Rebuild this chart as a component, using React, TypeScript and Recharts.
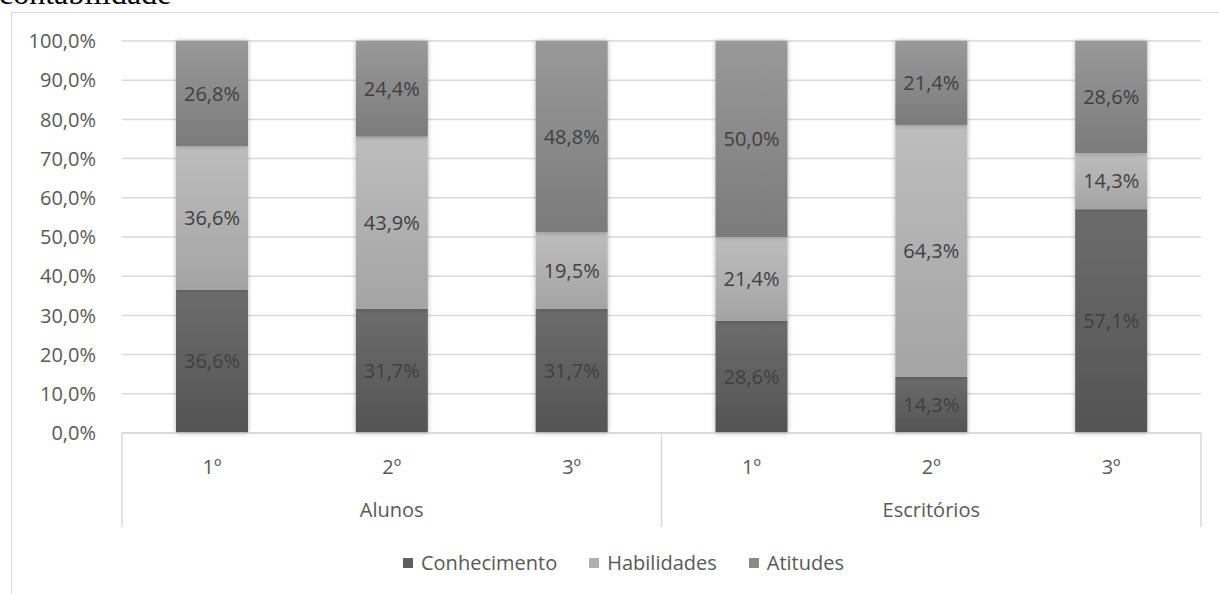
import React from "react";
import {
  Bar,
  BarChart,
  CartesianGrid,
  LabelList,
  Legend,
  XAxis,
  YAxis,
} from "recharts";

// categories: survey group and position
const groups = ["Alunos", "Alunos", "Alunos", "Escritórios", "Escritórios", "Escritórios"];
const positions = ["1º", "2º", "3º", "1º", "2º", "3º"];

// share of each competence (%)
const conhecimento = [36.6, 31.7, 31.7, 28.6, 14.3, 57.1];
const habilidades = [36.6, 43.9, 19.5, 21.4, 64.3, 14.3];
const atitudes = [26.8, 24.4, 48.8, 50.0, 21.4, 28.6];

const yTicks = [0, 10, 20, 30, 40, 50, 60, 70, 80, 90, 100];

const data = positions.map((pos, i) => ({
  pos,
  group: groups[i],
  conhecimento: conhecimento[i],
  habilidades: habilidades[i],
  atitudes: atitudes[i],
}));

const FONT = "'Open Sans', sans-serif";
const FS = 20;
const TEXT = "#595959";
const GRID = "#d9d9d9";

const W = 1207;
const H = 580;
const MARGIN = { top: 28, right: 18, left: 0, bottom: 66 };
const Y_W = 110;
const X_H = 94;
const PLOT_W = W - MARGIN.left - MARGIN.right - Y_W;
const PLOT_BOTTOM = H - MARGIN.bottom - X_H;
const BAND = PLOT_W / data.length;

const series = [
  { key: "conhecimento", name: "Conhecimento", grad: "gC", top: "#6c6c6c", bottom: "#545454", swatch: "#5f5f5f" },
  { key: "habilidades", name: "Habilidades", grad: "gH", top: "#bdbdbd", bottom: "#a4a4a4", swatch: "#b0b0b0" },
  { key: "atitudes", name: "Atitudes", grad: "gA", top: "#999999", bottom: "#7b7b7b", swatch: "#8a8a8a" },
];

const pct = (v: number) => v.toFixed(1).replace(".", ",") + "%";

const SegmentShape = (props: any) => {
  const { x, y, width, height, fill } = props;
  if (!height || height <= 0) return null;
  return <rect x={x} y={y} width={width} height={height} fill={fill} filter="url(#barShadow)" />;
};

// two-level category axis: position on the first row, group name below
const CategoryTick = (props: any) => {
  const { x, payload } = props;
  const i = payload.index;
  const g = groups[i];
  const first = i === 0 || groups[i - 1] !== g;
  const last = i === groups.length - 1;
  const count = groups.filter((v) => v === g).length;
  const left = x - BAND / 2;
  return (
    <g>
      <text x={x} y={PLOT_BOTTOM + 33} textAnchor="middle" dominantBaseline="central" fill={TEXT} fontSize={FS} fontFamily={FONT}>
        {payload.value}
      </text>
      {first && (
        <>
          <line x1={left} x2={left} y1={PLOT_BOTTOM} y2={PLOT_BOTTOM + X_H} stroke={GRID} strokeWidth={1.5} />
          <text x={left + (count * BAND) / 2} y={PLOT_BOTTOM + 76} textAnchor="middle" dominantBaseline="central" fill={TEXT} fontSize={FS} fontFamily={FONT}>
            {g}
          </text>
        </>
      )}
      {last && (
        <line x1={x + BAND / 2} x2={x + BAND / 2} y1={PLOT_BOTTOM} y2={PLOT_BOTTOM + X_H} stroke={GRID} strokeWidth={1.5} />
      )}
    </g>
  );
};

const LegendContent = () => (
  <div style={{ display: "flex", justifyContent: "center", paddingLeft: 16, fontFamily: FONT, fontSize: FS, color: TEXT }}>
    {series.map((s) => (
      <div key={s.key} style={{ display: "flex", alignItems: "center", margin: "0 16px" }}>
        <span style={{ width: 10, height: 10, background: s.swatch, marginRight: 8, display: "inline-block" }} />
        {s.name}
      </div>
    ))}
  </div>
);

const App = () => {
  return (
    <div>
      <div
        style={{
          position: "absolute",
          left: -1,
          top: -25,
          fontFamily: "'Liberation Serif', serif",
          fontSize: 32,
          color: "#000",
        }}
      >
        contabilidade
      </div>
      <div
        style={{
          position: "absolute",
          left: 11,
          top: 12,
          width: 1240,
          height: 620,
          border: `1.5px solid ${GRID}`,
          background: "#fff",
        }}
      />
      <div style={{ position: "absolute", left: 12, top: 13 }}>
        <BarChart width={W} height={H} data={data} margin={MARGIN} barSize={72}>
          <defs>
            {series.map((s) => (
              <linearGradient key={s.grad} id={s.grad} x1="0" y1="0" x2="0" y2="1">
                <stop offset="0%" stopColor={s.top} />
                <stop offset="100%" stopColor={s.bottom} />
              </linearGradient>
            ))}
            <filter id="barShadow" x="-20%" y="-5%" width="140%" height="110%">
              <feDropShadow dx="0" dy="0" stdDeviation="2.5" floodColor="#000" floodOpacity="0.3" />
            </filter>
          </defs>
          <CartesianGrid vertical={false} stroke={GRID} strokeWidth={1.5} />
          <XAxis
            dataKey="pos"
            height={X_H}
            interval={0}
            tickLine={false}
            axisLine={{ stroke: GRID, strokeWidth: 1.5 }}
            tick={<CategoryTick />}
          />
          <YAxis
            width={Y_W}
            domain={[0, 100]}
            ticks={yTicks}
            interval={0}
            tickFormatter={pct}
            axisLine={false}
            tickLine={false}
            tickMargin={20}
            tick={{ fill: TEXT, fontSize: FS, fontFamily: FONT }}
          />
          <Legend
            verticalAlign="middle"
            wrapperStyle={{ top: 536, left: 0, width: W }}
            content={<LegendContent />}
          />
          {series.map((s) => (
            <Bar
              key={s.key}
              dataKey={s.key}
              name={s.name}
              stackId="a"
              fill={`url(#${s.grad})`}
              shape={<SegmentShape />}
              isAnimationActive={false}
            >
              <LabelList
                dataKey={s.key}
                position="center"
                formatter={(v: any) => pct(Number(v))}
                style={{ fill: "#404040", fontSize: FS, fontFamily: FONT }}
              />
            </Bar>
          ))}
        </BarChart>
      </div>
    </div>
  );
};

export default App;
